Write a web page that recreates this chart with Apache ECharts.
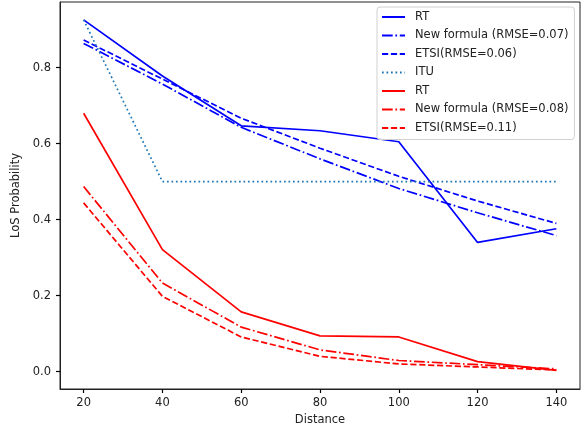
<!DOCTYPE html>
<html><head><meta charset="utf-8">
<script src="https://cdn.jsdelivr.net/npm/echarts@6/dist/echarts.min.js"></script>
<style>html,body{margin:0;padding:0;background:#fff;}#c{width:587px;height:429px;}</style>
</head><body><div id="c"></div>
<script>
const distances = [20, 40, 60, 80, 100, 120, 140];
const xTicks = [20, 40, 60, 80, 100, 120, 140];
const yTicks = [0, 0.2, 0.4, 0.6, 0.8];

const blueRT   = [0.926, 0.778, 0.647, 0.634, 0.605, 0.340, 0.376];
const blueNF   = [0.864, 0.757, 0.643, 0.560, 0.482, 0.418, 0.358];
const blueETSI = [0.873, 0.770, 0.667, 0.588, 0.514, 0.449, 0.390];
const itu      = [0.926, 0.500, 0.500, 0.500, 0.500, 0.500, 0.500];
const redRT    = [0.680, 0.321, 0.157, 0.094, 0.091, 0.026, 0.003];
const redNF    = [0.487, 0.233, 0.117, 0.057, 0.029, 0.018, 0.007];
const redETSI  = [0.444, 0.198, 0.091, 0.040, 0.020, 0.012, 0.004];

const names = ['RT', 'New formula (RMSE=0.07)', 'ETSI(RMSE=0.06)', 'ITU', 'RT ', 'New formula (RMSE=0.08)', 'ETSI(RMSE=0.11)'];

const LW = 1.7;
const DASHED = [6.2, 2.7];
const DASHDOT = [10.7, 2.7, 1.7, 2.7];
const DOTTED = [1.7, 2.8];

function mk(name, vals, color, type) {
  return {
    name: name, type: 'line', symbol: 'none', silent: true,
    data: distances.map((d, i) => [d, vals[i]]),
    lineStyle: { color: color, width: LW, type: type, cap: 'butt' },
    itemStyle: { color: color }
  };
}

const FONT = 'DejaVu Sans';
const FS = 11.5;
const AX = '#222';
const TICK = { show: true, inside: false, length: 4, lineStyle: { color: '#000', width: 1.2 } };
const chart = echarts.init(document.getElementById('c'), null, { renderer: 'canvas' });
chart.setOption({
  animation: false,
  backgroundColor: '#fff',
  grid: { left: 60, right: 7, top: 2, bottom: 40, containLabel: false, outerBoundsMode: 'none',
          show: true, borderColor: AX, borderWidth: 1, backgroundColor: 'transparent' },
  xAxis: {
    type: 'value', min: 14, max: 146,
    name: 'Distance', nameLocation: 'middle', nameGap: 23,
    nameTextStyle: { fontFamily: FONT, fontSize: FS, color: AX },
    axisLine: { show: true, onZero: false, lineStyle: { color: AX, width: 1 } },
    splitLine: { show: false },
    axisTick: Object.assign({ customValues: xTicks }, TICK),
    axisLabel: { customValues: xTicks, margin: 8, fontFamily: FONT, fontSize: FS, color: AX }
  },
  yAxis: {
    type: 'value', min: -0.046, max: 0.973,
    name: 'LoS Probability', nameLocation: 'middle', nameGap: 33,
    nameTextStyle: { fontFamily: FONT, fontSize: FS, color: AX },
    axisLine: { show: true, onZero: false, lineStyle: { color: AX, width: 1 } },
    splitLine: { show: false },
    axisTick: Object.assign({ customValues: yTicks }, TICK),
    axisLabel: { customValues: yTicks, margin: 9, fontFamily: FONT, fontSize: FS, color: AX, formatter: v => v.toFixed(1) }
  },
  legend: {
    orient: 'vertical', left: 377, top: 7,
    padding: [4, 6, 5.5, 4],
    itemWidth: 23, itemHeight: 11, itemGap: 6.5,
    backgroundColor: 'rgba(255,255,255,0.85)',
    borderColor: '#d0d0d0', borderWidth: 1, borderRadius: 3,
    itemStyle: { opacity: 0 },
    textStyle: { fontFamily: FONT, fontSize: FS, color: AX, padding: [0, 0, 0, 5] },
    data: names
  },
  series: [
    mk(names[0], blueRT, '#0000ff', 'solid'),
    mk(names[1], blueNF, '#0000ff', DASHDOT),
    mk(names[2], blueETSI, '#0000ff', DASHED),
    mk(names[3], itu, '#1f77b4', DOTTED),
    mk(names[4], redRT, '#ff0000', 'solid'),
    mk(names[5], redNF, '#ff0000', DASHDOT),
    mk(names[6], redETSI, '#ff0000', DASHED)
  ]
});
</script></body></html>
